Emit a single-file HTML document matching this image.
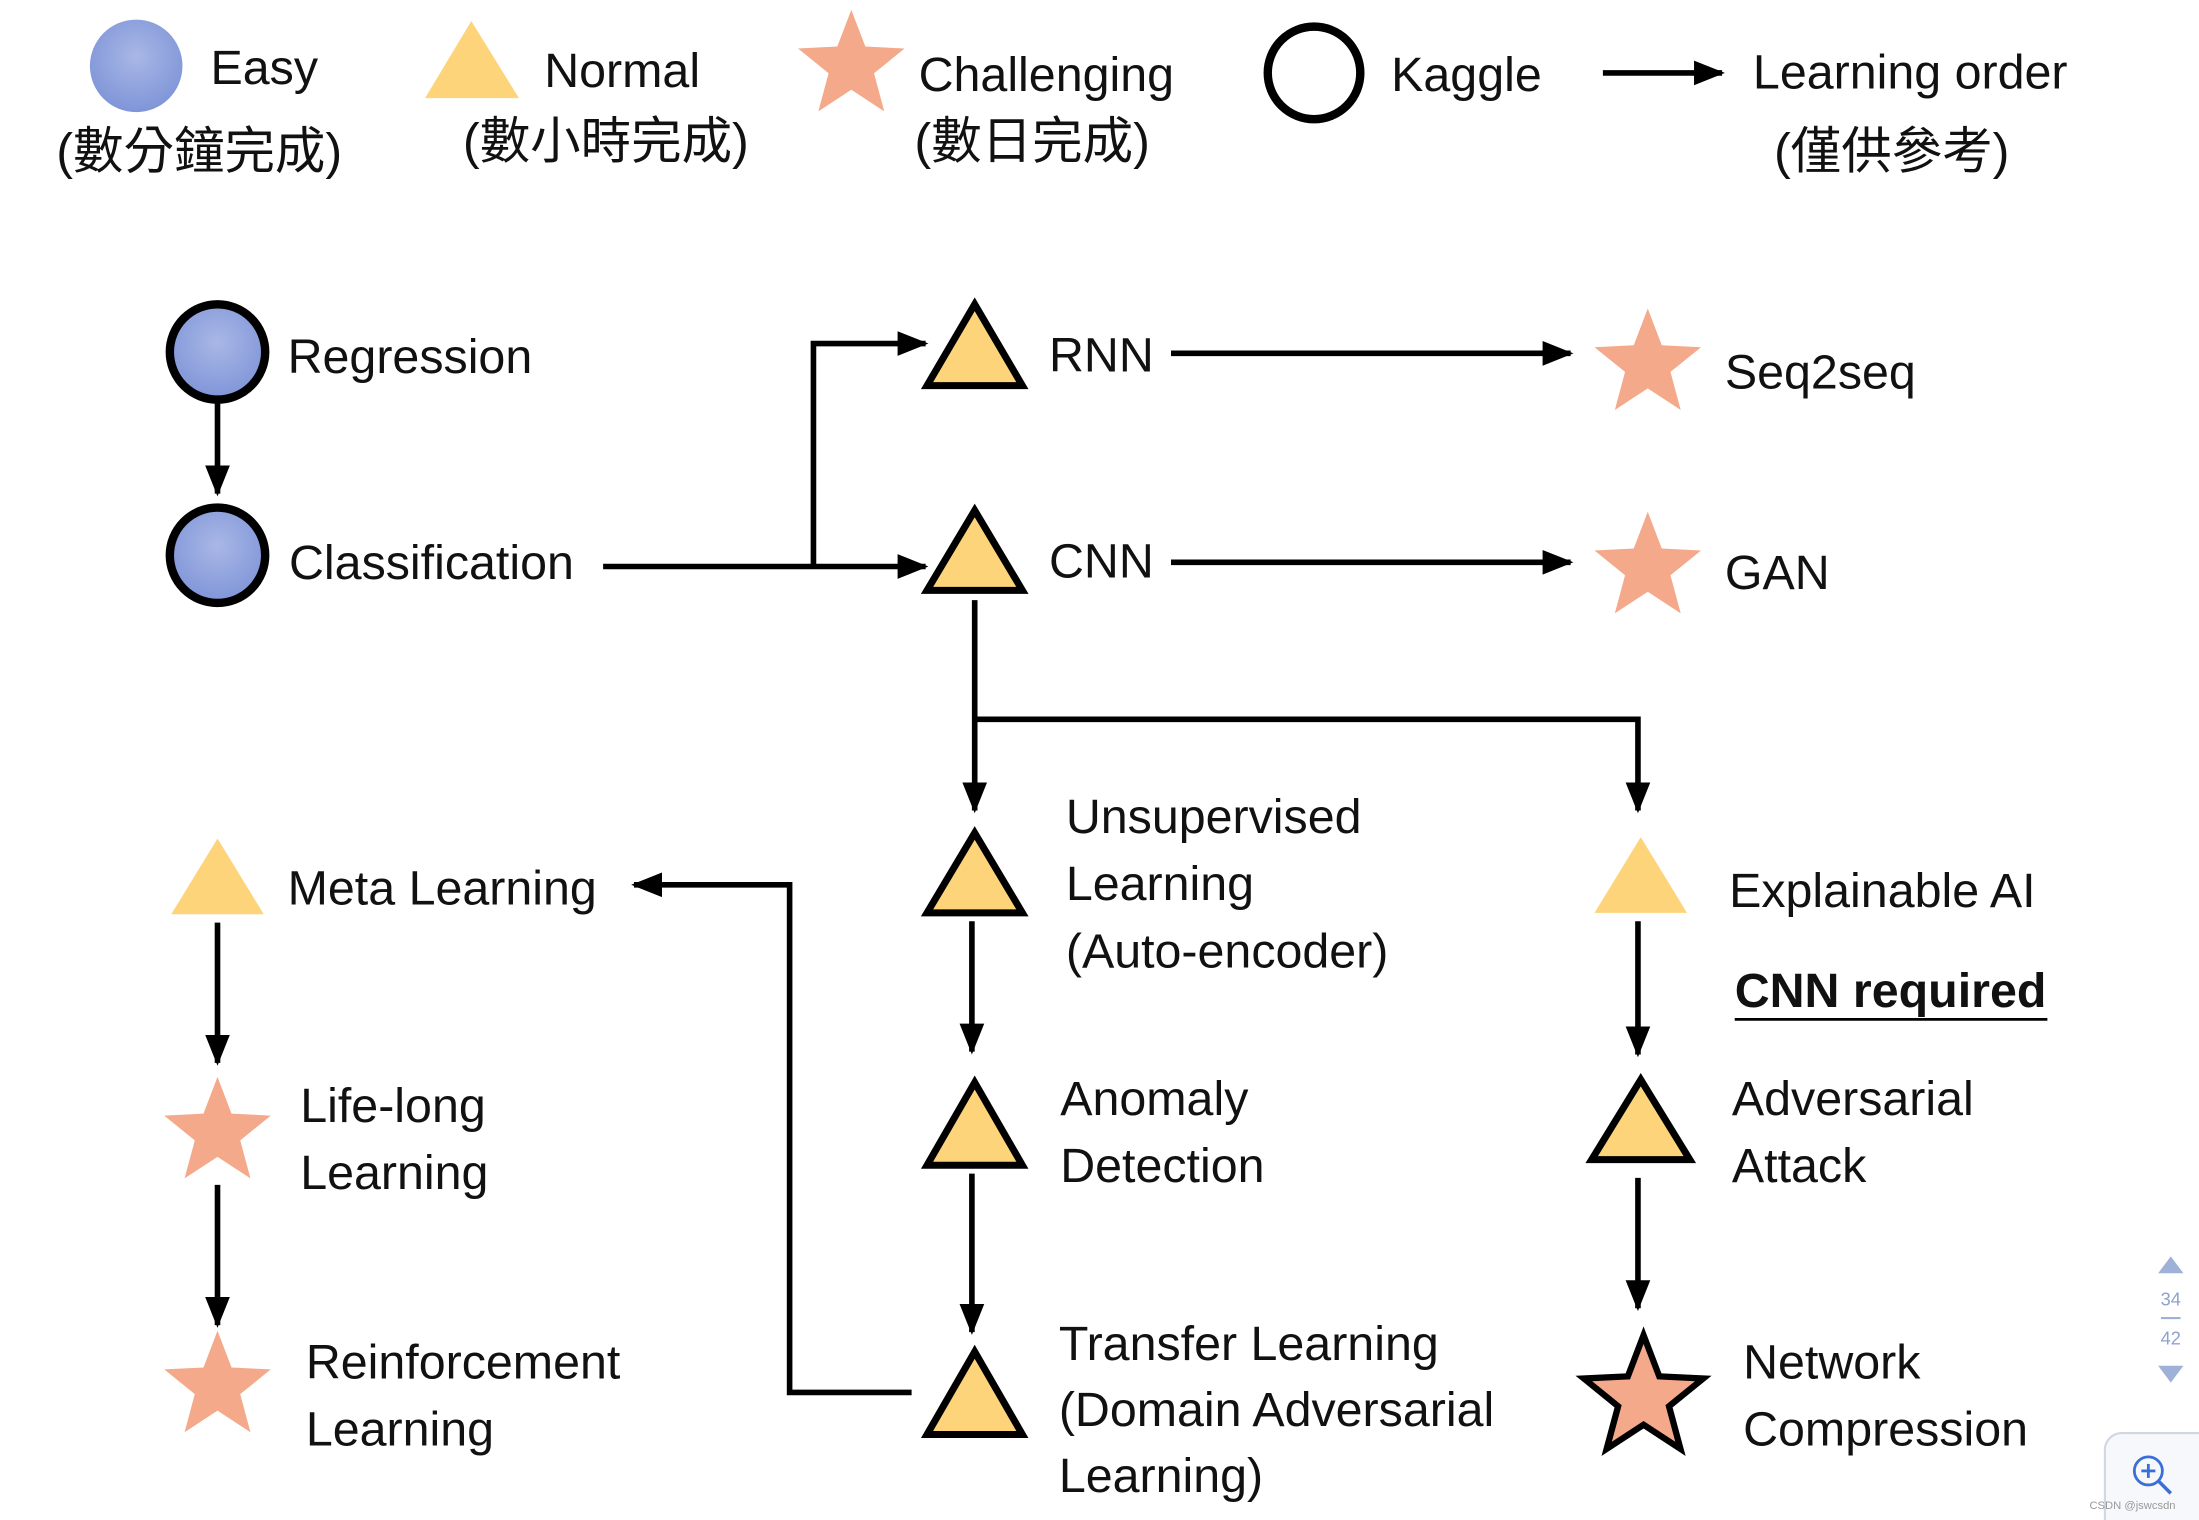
<!DOCTYPE html>
<html><head><meta charset="utf-8"><style>
html,body{margin:0;padding:0;background:#fff;}
svg{display:block;}
text{font-family:"Liberation Sans","Noto Sans CJK TC",sans-serif;font-size:34.5px;fill:#111;}
.cjk{font-size:36px;}
</style></head><body>
<svg width="2199" height="1520" viewBox="0 0 1568 1084" xmlns="http://www.w3.org/2000/svg">
<defs>
<marker id="a" markerWidth="5.5" markerHeight="5" refX="5" refY="2.5" orient="auto" markerUnits="strokeWidth">
<path d="M0,0.3 L5.5,2.5 L0,4.7 Z" fill="#000"/></marker>
<path id="st" d="M0,-40 10,-13.8 38,-12.4 16.2,5.25 23.5,32.4 0,17 -23.5,32.4 -16.2,5.25 -38,-12.4 -10,-13.8Z"/>
<radialGradient id="bg" cx="50%" cy="40%" r="60%"><stop offset="0" stop-color="#a9b7e6"/><stop offset="1" stop-color="#7f95d8"/></radialGradient>
</defs>
<g fill="none" stroke="#000" stroke-width="4">
<circle cx="97" cy="47" r="33" fill="url(#bg)" stroke="none"/>
<polygon points="336,15 303,70 370,70" fill="#fdd47a" stroke="none"/>
<use href="#st" transform="translate(607,47)" fill="#f4a98a" stroke="none"/>
<circle cx="937" cy="52" r="33" stroke-width="6"/>
<line x1="1143" y1="52" x2="1228" y2="52" marker-end="url(#a)"/>
<circle cx="155" cy="251" r="34" fill="url(#bg)" stroke-width="6"/>
<circle cx="155" cy="396" r="34" fill="url(#bg)" stroke-width="6"/>
<line x1="155" y1="285" x2="155" y2="352" marker-end="url(#a)"/>
<line x1="430" y1="404" x2="660" y2="404" marker-end="url(#a)"/>
<polyline points="580,404 580,245 660,245" marker-end="url(#a)"/>
<polygon points="695,217 661,275 729,275" fill="#fdd47a" stroke-width="5"/>
<line x1="835" y1="252" x2="1120" y2="252" marker-end="url(#a)"/>
<use href="#st" transform="translate(1175,260)" fill="#f4a98a" stroke="none"/>
<polygon points="695,364 661,421 729,421" fill="#fdd47a" stroke-width="5"/>
<line x1="835" y1="401" x2="1120" y2="401" marker-end="url(#a)"/>
<use href="#st" transform="translate(1175,405)" fill="#f4a98a" stroke="none"/>
<line x1="695" y1="428" x2="695" y2="578" marker-end="url(#a)"/>
<polyline points="695,513 1168,513 1168,578" marker-end="url(#a)"/>
<polygon points="695,594 661,651 729,651" fill="#fdd47a" stroke-width="5"/>
<line x1="693" y1="657" x2="693" y2="750" marker-end="url(#a)"/>
<polygon points="695,772 661,831 729,831" fill="#fdd47a" stroke-width="5"/>
<line x1="693" y1="837" x2="693" y2="950" marker-end="url(#a)"/>
<polygon points="695,964 661,1023 729,1023" fill="#fdd47a" stroke-width="5"/>
<polyline points="650,993 563,993 563,631 452,631" marker-end="url(#a)"/>
<polygon points="155,598 122,652 188,652" fill="#fdd47a" stroke="none"/>
<line x1="155" y1="658" x2="155" y2="758" marker-end="url(#a)"/>
<use href="#st" transform="translate(155,808)" fill="#f4a98a" stroke="none"/>
<line x1="155" y1="845" x2="155" y2="945" marker-end="url(#a)"/>
<use href="#st" transform="translate(155,989)" fill="#f4a98a" stroke="none"/>
<polygon points="1170,597 1137,651 1203,651" fill="#fdd47a" stroke="none"/>
<line x1="1168" y1="657" x2="1168" y2="752" marker-end="url(#a)"/>
<polygon points="1170,770 1135,827 1205,827" fill="#fdd47a" stroke-width="5"/>
<line x1="1168" y1="840" x2="1168" y2="933" marker-end="url(#a)"/>
<use href="#st" transform="translate(1172,997) scale(1.12)" fill="#f4a98a" stroke-width="4"/>
<line x1="1237" y1="727" x2="1460" y2="727" stroke-width="2"/>
<polygon points="1548,896 1539,908 1557,908" fill="#9fb1d6" stroke="none"/>
<line x1="1541" y1="940" x2="1555" y2="940" stroke="#9fb1d6" stroke-width="1.5"/>
<polygon points="1548,986 1539,974 1557,974" fill="#9fb1d6" stroke="none"/>
<rect x="1501" y="1022" width="80" height="80" rx="12" fill="#f7f8fb" stroke="#cfd6e4" stroke-width="1.5"/>
<circle cx="1532" cy="1049" r="10" stroke="#3b6fd8" stroke-width="2"/>
<line x1="1539" y1="1056" x2="1548" y2="1065" stroke="#3b6fd8" stroke-width="2.5"/>
<line x1="1527" y1="1049" x2="1537" y2="1049" stroke="#3b6fd8" stroke-width="2"/>
<line x1="1532" y1="1044" x2="1532" y2="1054" stroke="#3b6fd8" stroke-width="2"/>
</g>
<text x="150" y="60">Easy</text>
<text x="40" y="120" class="cjk">(數分鐘完成)</text>
<text x="388" y="62">Normal</text>
<text x="330" y="113" class="cjk">(數小時完成)</text>
<text x="655" y="65">Challenging</text>
<text x="652" y="113" class="cjk">(數日完成)</text>
<text x="992" y="65">Kaggle</text>
<text x="1250" y="63">Learning order</text>
<text x="1265" y="120" class="cjk">(僅供參考)</text>
<text x="205" y="266">Regression</text>
<text x="206" y="413">Classification</text>
<text x="748" y="265">RNN</text>
<text x="748" y="412">CNN</text>
<text x="1230" y="277">Seq2seq</text>
<text x="1230" y="420">GAN</text>
<text x="760" y="594">Unsupervised</text>
<text x="760" y="642">Learning</text>
<text x="760" y="690">(Auto-encoder)</text>
<text x="756" y="795">Anomaly</text>
<text x="756" y="843">Detection</text>
<text x="755" y="970">Transfer Learning</text>
<text x="755" y="1017">(Domain Adversarial</text>
<text x="755" y="1064">Learning)</text>
<text x="205" y="645">Meta Learning</text>
<text x="214" y="800">Life-long</text>
<text x="214" y="848">Learning</text>
<text x="218" y="983">Reinforcement</text>
<text x="218" y="1031">Learning</text>
<text x="1233" y="647">Explainable AI</text>
<text x="1237" y="718" style="font-weight:bold">CNN required</text>
<text x="1235" y="795">Adversarial</text>
<text x="1235" y="843">Attack</text>
<text x="1243" y="983">Network</text>
<text x="1243" y="1031">Compression</text>
<text x="1548" y="931" text-anchor="middle" style="font-size:13px;fill:#8fa2cc">34</text>
<text x="1548" y="959" text-anchor="middle" style="font-size:13px;fill:#8fa2cc">42</text>
<text x="1490" y="1076" style="font-size:8px;fill:#999">CSDN @jswcsdn</text>
</svg>
</body></html>
